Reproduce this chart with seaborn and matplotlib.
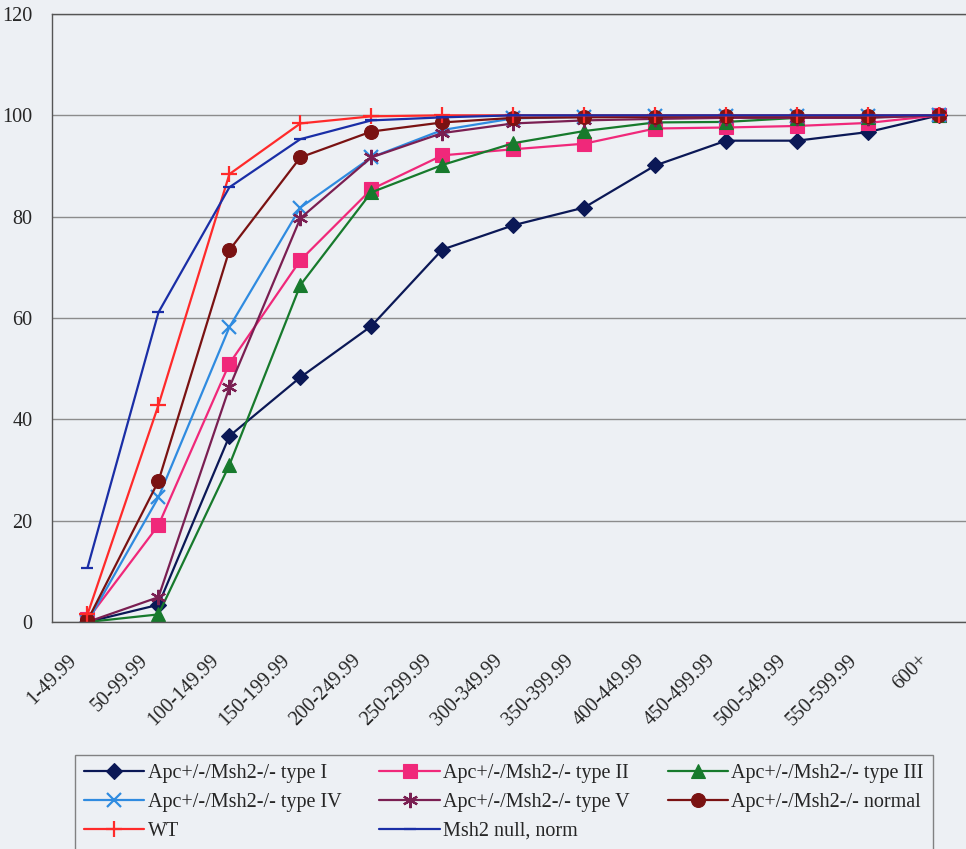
import matplotlib
matplotlib.use("Agg")
import matplotlib.pyplot as plt
import matplotlib.transforms as mtransforms
import seaborn as sns
import pandas as pd
import numpy as np

# Size classes (x axis)
size_classes = ["1-49.99", "50-99.99", "100-149.99", "150-199.99", "200-249.99",
                "250-299.99", "300-349.99", "350-399.99", "400-449.99", "450-499.99",
                "500-549.99", "550-599.99", "600+"]

# Cumulative percentages
type_I = [0.0, 3.4, 36.7, 48.3, 58.4, 73.5, 78.3, 81.8, 90.1, 95.0, 95.0, 96.7, 100.0]
type_II = [0.5, 19.1, 51.0, 71.4, 85.4, 92.1, 93.3, 94.4, 97.4, 97.6, 97.9, 98.5, 100.0]
type_III = [0.0, 1.5, 31.0, 66.5, 84.8, 90.2, 94.5, 96.9, 98.6, 98.7, 99.5, 99.6, 100.0]
type_IV = [0.0, 24.6, 58.2, 81.8, 91.7, 97.1, 99.4, 99.7, 99.8, 99.8, 99.8, 99.8, 100.0]
type_V = [0.0, 4.9, 46.3, 79.7, 91.7, 96.5, 98.4, 99.0, 99.3, 99.5, 99.5, 99.5, 100.0]
normal = [0.3, 27.8, 73.4, 91.7, 96.8, 98.6, 99.5, 99.6, 99.7, 99.8, 99.8, 99.8, 100.0]
wt = [1.5, 42.8, 88.4, 98.4, 99.8, 100.0, 100.0, 100.0, 100.0, 100.0, 100.0, 100.0, 100.0]
msh2_null = [10.7, 61.1, 85.8, 95.3, 99.0, 99.6, 100.0, 100.0, 100.0, 100.0, 100.0, 100.0, 100.0]

series = [
    ("Apc+/-/Msh2-/- type I", type_I, "#0b1856", "D", 8),
    ("Apc+/-/Msh2-/- type II", type_II, "#f0287a", "s", 10),
    ("Apc+/-/Msh2-/- type III", type_III, "#177a2c", "^", 10),
    ("Apc+/-/Msh2-/- type IV", type_IV, "#2f8be0", "x", 10),
    ("Apc+/-/Msh2-/- type V", type_V, "#7a1f52", (6, 2, 0), 11),
    ("Apc+/-/Msh2-/- normal", normal, "#7a1212", "o", 10),
    ("WT", wt, "#ff2a2a", "+", 12),
    ("Msh2 null, norm", msh2_null, "#1a2ea6", "_", 9),
]

sns.set_style("white")
plt.rcParams["font.family"] = ["Liberation Serif", "DejaVu Serif"]

bg = "#edf0f4"
fig = plt.figure(figsize=(9.66, 8.49), dpi=100, facecolor=bg)
ax = fig.add_axes([52 / 966, 1 - 622 / 849, 1 - 52 / 966, (622 - 14) / 849])
ax.set_facecolor(bg)

x = np.arange(len(size_classes))
for label, vals, color, marker, ms in series:
    df = pd.DataFrame({"x": x, "y": vals})
    sns.lineplot(data=df, x="x", y="y", ax=ax, color=color, marker=marker,
                 markersize=ms, linewidth=1.6, label=label,
                 markeredgecolor=color, markerfacecolor=color,
                 markeredgewidth=1.6 if marker in ("x", "+", "_", (6, 2, 0)) else 0.8)

ax.set_ylim(0, 120)
ax.set_xlim(-0.5, 12.38)
ax.set_yticks(range(0, 121, 20))
ax.yaxis.grid(True, color="#8c8c8c", linewidth=1.0)
ax.set_axisbelow(True)
ax.set_xticks(x)
ax.set_xticklabels(size_classes, rotation=45, ha="right", rotation_mode="anchor", fontsize=14.5)
ax.tick_params(axis="x", which="major", length=0, pad=21)
ax.set_xticks(np.arange(-0.5, 12.5, 1), minor=True)
ax.tick_params(axis="x", which="minor", length=6, color="#555555", direction="out")
ax.tick_params(axis="y", length=6, color="#555555", direction="out", labelsize=14.5, pad=8)
# nudge the rotated labels left (after tick_params, which resets transforms)
shift = mtransforms.ScaledTranslation(-20 / 100, 0, fig.dpi_scale_trans)
for t in ax.get_xticklabels():
    t.set_transform(t.get_transform() + shift)
ax.set_xlabel("")
ax.set_ylabel("")
for s in ["left", "bottom", "top"]:
    ax.spines[s].set_color("#555555")
    ax.spines[s].set_linewidth(1.0)
ax.spines["right"].set_visible(False)

# legend filled row by row, like the original
handles, labels = ax.get_legend_handles_labels()
ax.get_legend().remove()
order = [0, 3, 6, 1, 4, 7, 2, 5]
leg = fig.legend([handles[i] for i in order], [labels[i] for i in order], ncol=3,
                 loc="upper left", bbox_to_anchor=(75 / 966, 1 - 755 / 849),
                 fontsize=14.5, frameon=True, fancybox=False, edgecolor="#666666",
                 facecolor=bg, handlelength=3.0, handletextpad=0.15,
                 columnspacing=1.9, labelspacing=0.48, borderpad=0.45, borderaxespad=0)
leg.get_frame().set_linewidth(1.0)

fig.savefig("out.png", dpi=100, facecolor=bg)
